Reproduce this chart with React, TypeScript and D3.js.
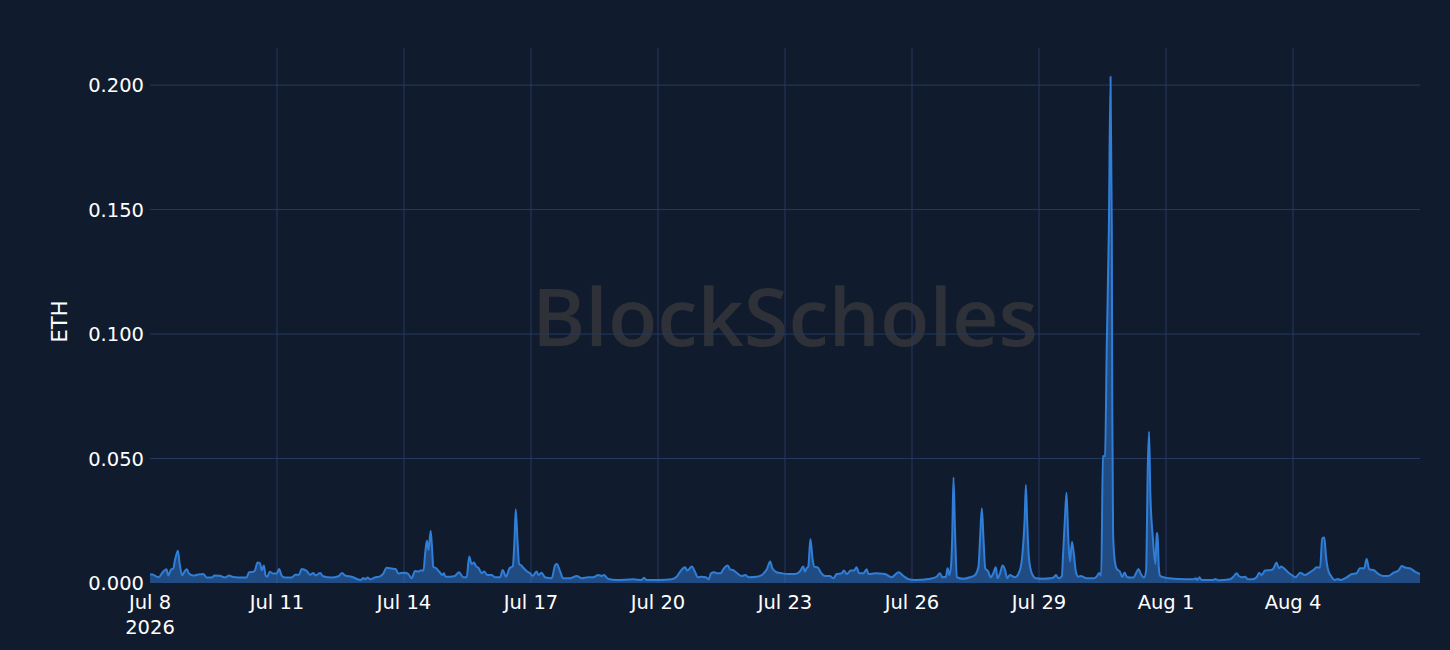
import React, { useEffect } from "react";
import * as d3 from "d3";

// ---- data ----
const startDate = new Date(Date.UTC(2026, 6, 8));
const endDate = new Date(Date.UTC(2026, 7, 7));

// time offsets in days from Jul 8 2026 00:00 UTC
const dayOffsets = [
  0.0, 0.04, 0.2, 0.31, 0.39, 0.43, 0.5, 0.55, 0.59, 0.66, 0.7, 0.76, 0.81, 0.87, 0.92, 1.02, 1.14, 1.26, 1.34, 1.46,
  1.52, 1.65, 1.77, 1.87, 1.94, 2.09, 2.28, 2.34, 2.44, 2.48, 2.54, 2.6, 2.64, 2.69, 2.73, 2.77, 2.83, 2.91, 2.99, 3.05,
  3.11, 3.19, 3.35, 3.43, 3.52, 3.58, 3.7, 3.78, 3.86, 3.91, 4.02, 4.09, 4.29, 4.45, 4.54, 4.61, 4.76, 4.98, 5.04, 5.09,
  5.14, 5.2, 5.31, 5.43, 5.51, 5.59, 5.71, 5.8, 5.87, 5.93,
  6.02, 6.1, 6.18, 6.26, 6.34, 6.39, 6.46, 6.5, 6.54, 6.58, 6.63, 6.67, 6.69, 6.76, 6.83, 6.91, 6.94, 6.98, 7.09, 7.2,
  7.3, 7.4, 7.48, 7.54, 7.6, 7.65, 7.7, 7.77, 7.83, 7.89, 7.97, 8.07, 8.15, 8.27, 8.33, 8.41, 8.49, 8.57, 8.61, 8.64,
  8.68, 8.72, 8.76, 8.83, 8.91, 8.98, 9.04, 9.13, 9.18, 9.25, 9.33, 9.49, 9.57, 9.61, 9.69, 9.76, 9.92, 10.08, 10.2,
  10.35, 10.47, 10.59, 10.67, 10.72, 10.83, 11.02, 11.42, 11.61, 11.67, 11.73, 12.05,
  12.32, 12.44, 12.54, 12.64, 12.69, 12.8, 12.87, 12.94, 13.03, 13.13, 13.2, 13.25, 13.33, 13.41, 13.48, 13.54, 13.65,
  13.7, 13.78, 13.86, 13.98, 14.06, 14.15, 14.33, 14.45, 14.57, 14.65, 14.7, 14.8, 14.92, 15.08, 15.24, 15.35, 15.43,
  15.47, 15.51, 15.55, 15.6, 15.65, 15.69, 15.77, 15.85, 15.94, 16.06, 16.14, 16.22, 16.34, 16.39, 16.46, 16.55, 16.63,
  16.69, 16.75, 16.85, 16.93, 16.97, 17.13, 17.36, 17.52, 17.68, 17.8, 17.92, 18.07,
  18.43, 18.58, 18.66, 18.72, 18.8, 18.84, 18.88, 18.92, 18.95, 18.98, 19.02, 19.06, 19.21, 19.37, 19.49, 19.57, 19.61,
  19.65, 19.69, 19.73, 19.8, 19.86, 19.92, 19.98, 20.02, 20.08, 20.14, 20.2, 20.25, 20.31, 20.43, 20.55, 20.61, 20.66,
  20.69, 20.72, 20.76, 20.83, 20.93, 21.1, 21.26, 21.35, 21.4, 21.46, 21.54, 21.57, 21.61, 21.65, 21.69, 21.73, 21.78,
  21.83, 21.87, 21.93,
  21.98, 22.13, 22.29, 22.36, 22.42, 22.47, 22.51, 22.56, 22.6, 22.65, 22.69, 22.72, 22.73, 22.75, 22.79, 22.84, 22.91,
  22.97, 23.02, 23.08, 23.14, 23.23, 23.3, 23.35, 23.41, 23.48, 23.53, 23.57, 23.6, 23.63, 23.69, 23.75, 23.78, 23.8,
  23.83, 23.86, 23.96, 24.08,
  24.29, 24.65, 24.7, 24.74, 24.79, 24.84, 25.12, 25.16, 25.24, 25.51, 25.59, 25.67, 25.72, 25.8, 25.87, 25.94, 26.04,
  26.14, 26.2, 26.26, 26.34, 26.48, 26.54, 26.61, 26.67, 26.72, 26.81, 26.91, 27.01, 27.06, 27.17, 27.28, 27.38, 27.48,
  27.56, 27.64, 27.69, 27.74, 27.78, 27.83, 27.91, 27.98, 28.06, 28.13, 28.27, 28.39, 28.5, 28.58, 28.68, 28.74, 28.8,
  28.9, 29.02, 29.13, 29.25, 29.37, 29.49, 29.57, 29.65, 29.76, 29.88, 30.0,
];

// values in ETH
const feeValues = [
  0.0032, 0.0035, 0.0023, 0.0045, 0.0055, 0.003, 0.0055, 0.0058, 0.0092, 0.013, 0.0078, 0.0031, 0.0045, 0.0055, 0.0038,
  0.003, 0.0034, 0.0036, 0.0022, 0.0022, 0.003, 0.0029, 0.0022, 0.003, 0.0025, 0.0022, 0.0022, 0.0043, 0.0045, 0.0051,
  0.0082, 0.0079, 0.0051, 0.007, 0.003, 0.0025, 0.0045, 0.0038, 0.0038, 0.0056, 0.003, 0.0022, 0.0022, 0.0033, 0.0033,
  0.0056, 0.0049, 0.0033, 0.004, 0.003, 0.004, 0.0027, 0.0022, 0.0027, 0.004, 0.003, 0.0025, 0.0012, 0.002, 0.0015,
  0.0022, 0.0015, 0.0022, 0.0027, 0.0038, 0.0061, 0.0058, 0.0056, 0.0038, 0.004,
  0.0041, 0.0036, 0.0019, 0.0048, 0.0046, 0.005, 0.005, 0.0119, 0.017, 0.0133, 0.021, 0.0119, 0.0066, 0.0059, 0.0046,
  0.0032, 0.0039, 0.0025, 0.0025, 0.0028, 0.0043, 0.0023, 0.0023, 0.0106, 0.0076, 0.0082, 0.0068, 0.0059, 0.0039,
  0.0046, 0.0032, 0.0032, 0.0023, 0.0023, 0.0052, 0.0025, 0.0059, 0.0068, 0.0173, 0.0296, 0.0173, 0.0076, 0.0072,
  0.0059, 0.0046, 0.0039, 0.0028, 0.0046, 0.0032, 0.0041, 0.0023, 0.0019, 0.0072, 0.0076, 0.0046, 0.0019, 0.0019,
  0.0028, 0.0019, 0.0023, 0.0023, 0.0032, 0.0028, 0.0032, 0.0016, 0.0012, 0.0015, 0.0012, 0.0021, 0.0012, 0.0012,
  0.0015, 0.0025, 0.005, 0.0063, 0.005, 0.0066, 0.0046, 0.0023, 0.0025, 0.0023, 0.0015, 0.0039, 0.0043, 0.0039, 0.0039,
  0.0055, 0.007, 0.0055, 0.0052, 0.0041, 0.0028, 0.0032, 0.0023, 0.0025, 0.0032, 0.0055, 0.0086, 0.0059, 0.0043,
  0.0039, 0.0036, 0.0036, 0.0046, 0.0066, 0.0046, 0.0059, 0.0066, 0.0177, 0.0099, 0.0066, 0.0063, 0.0041, 0.0028,
  0.0028, 0.0019, 0.0036, 0.0039, 0.005, 0.0036, 0.005, 0.005, 0.0063, 0.0039, 0.0039, 0.0055, 0.0036, 0.0039, 0.0036,
  0.0023, 0.0043, 0.0028, 0.0015, 0.0012,
  0.0017, 0.0025, 0.0039, 0.0023, 0.0025, 0.0059, 0.0032, 0.0066, 0.0186, 0.0424, 0.0186, 0.0023, 0.0017, 0.0023,
  0.0032, 0.0066, 0.0186, 0.03, 0.0173, 0.0059, 0.0046, 0.0023, 0.0039, 0.0063, 0.0019, 0.0039, 0.007, 0.0052, 0.0019,
  0.0032, 0.0023, 0.0052, 0.0119, 0.0253, 0.0394, 0.0253, 0.0106, 0.0039, 0.0019, 0.0017, 0.0019, 0.0023, 0.0032,
  0.0019, 0.0028, 0.0119, 0.0253, 0.0363, 0.0186, 0.0086, 0.0166, 0.0106, 0.0046, 0.0025,
  0.0028, 0.0019, 0.0019, 0.0025, 0.004, 0.0029, 0.0509, 0.0511, 0.0946, 0.142, 0.2034, 0.142, 0.074, 0.0199, 0.009,
  0.0056, 0.0046, 0.0024, 0.0042, 0.0024, 0.0022, 0.0022, 0.0042, 0.0056, 0.0035, 0.0022, 0.0049, 0.047, 0.0608, 0.036,
  0.018, 0.0076, 0.0199, 0.02, 0.0063, 0.0029, 0.0022, 0.0019,
  0.0016, 0.0015, 0.0019, 0.0012, 0.0023, 0.0012, 0.0012, 0.0016, 0.0011, 0.0015, 0.0025, 0.0039, 0.0028, 0.0023,
  0.0025, 0.0015, 0.0015, 0.0023, 0.0041, 0.0032, 0.005, 0.0052, 0.0059, 0.0082, 0.0059, 0.0066, 0.0055, 0.0039,
  0.0028, 0.0023, 0.0041, 0.0032, 0.0041, 0.0052, 0.0063, 0.0062, 0.0179, 0.0183, 0.0106, 0.0052, 0.0025, 0.0012,
  0.0016, 0.0012, 0.0023, 0.0036, 0.0039, 0.0059, 0.0059, 0.0096, 0.0055, 0.0052, 0.0036, 0.0028, 0.0028, 0.0041,
  0.005, 0.0068, 0.0062, 0.0059, 0.0046, 0.0036,
];

const yTickValues = [0, 0.05, 0.1, 0.15, 0.2];
const yAxisTitle = "ETH";
const watermarkText = "BlockScholes";

// ---- styles ----
const BG = "#111b2e";
const GRID = "#26395f";
const LINE = "#2f7ed8";
const FONT = "'DejaVu Sans', Verdana, sans-serif";

export default function App() {
  useEffect(() => {
    document.body.style.margin = "0";
    document.body.style.background = BG;
  }, []);

  const W = 1450;
  const H = 650;
  const left = 150;
  const right = 1420;
  const top = 48;
  const bottom = 583;

  const x = d3.scaleUtc().domain([startDate, endDate]).range([left, right]);
  const y = d3.scaleLinear().domain([0, 0.2149]).range([bottom, top]);

  const data = dayOffsets.map((d, i) => ({
    t: new Date(startDate.getTime() + d * 864e5),
    v: feeValues[i],
  }));

  const area = d3
    .area<{ t: Date; v: number }>()
    .x((d) => x(d.t))
    .y0(y(0))
    .y1((d) => y(d.v))
    .curve(d3.curveMonotoneX);
  const line = d3
    .line<{ t: Date; v: number }>()
    .x((d) => x(d.t))
    .y((d) => y(d.v))
    .curve(d3.curveMonotoneX);

  const xTicks = d3.utcDay.range(startDate, endDate, 3);
  const fmt = d3.utcFormat("%b %-d");
  const yFmt = d3.format(".3f");

  return (
    <svg
      width={W}
      height={H}
      style={{ position: "absolute", left: 0, top: 0, display: "block" }}
    >
      <rect x={0} y={0} width={W} height={H} fill={BG} />

      {/* watermark */}
      <text
        x={785}
        y={346}
        textAnchor="middle"
        fontFamily="'Open Sans', Lato, sans-serif"
        fontWeight={600}
        fontSize={80}
        fill="#2e3137"
        textLength={506}
        lengthAdjust="spacingAndGlyphs"
      >
        {watermarkText}
      </text>

      {/* grid */}
      {yTickValues
        .filter((v) => v > 0)
        .map((v) => (
          <line key={"gy" + v} x1={left} x2={right} y1={y(v)} y2={y(v)} stroke={GRID} strokeWidth={1} />
        ))}
      {xTicks.slice(1).map((t) => (
        <line key={"gx" + t.getTime()} x1={x(t)} x2={x(t)} y1={top} y2={bottom} stroke={GRID} strokeWidth={1} />
      ))}

      {/* series */}
      <defs>
        <clipPath id="plotClip">
          <rect x={left} y={top - 10} width={right - left} height={bottom - top + 10} />
        </clipPath>
      </defs>
      <g clipPath="url(#plotClip)">
        <path d={area(data) || ""} fill={LINE} fillOpacity={0.5} />
        <path d={line(data) || ""} fill="none" stroke={LINE} strokeWidth={2} strokeLinejoin="round" />
      </g>

      {/* y axis labels */}
      {yTickValues.map((v) => (
        <text
          key={"yl" + v}
          x={144}
          y={y(v)}
          dy="0.36em"
          textAnchor="end"
          fontFamily={FONT}
          fontSize={19.5}
          fill="#ffffff"
        >
          {yFmt(v)}
        </text>
      ))}

      {/* x axis labels */}
      {xTicks.map((t, i) => (
        <text key={"xl" + t.getTime()} x={x(t)} y={609} textAnchor="middle" fontFamily={FONT} fontSize={19.5} fill="#ffffff">
          {fmt(t)}
          {i === 0 && (
            <tspan x={x(t)} dy={25}>
              {d3.utcFormat("%Y")(t)}
            </tspan>
          )}
        </text>
      ))}

      {/* y axis title */}
      <text
        transform={`translate(67,${(top + bottom) / 2 + 6}) rotate(-90)`}
        textAnchor="middle"
        fontFamily={FONT}
        fontSize={21}
        fill="#ffffff"
      >
        {yAxisTitle}
      </text>
    </svg>
  );
}
